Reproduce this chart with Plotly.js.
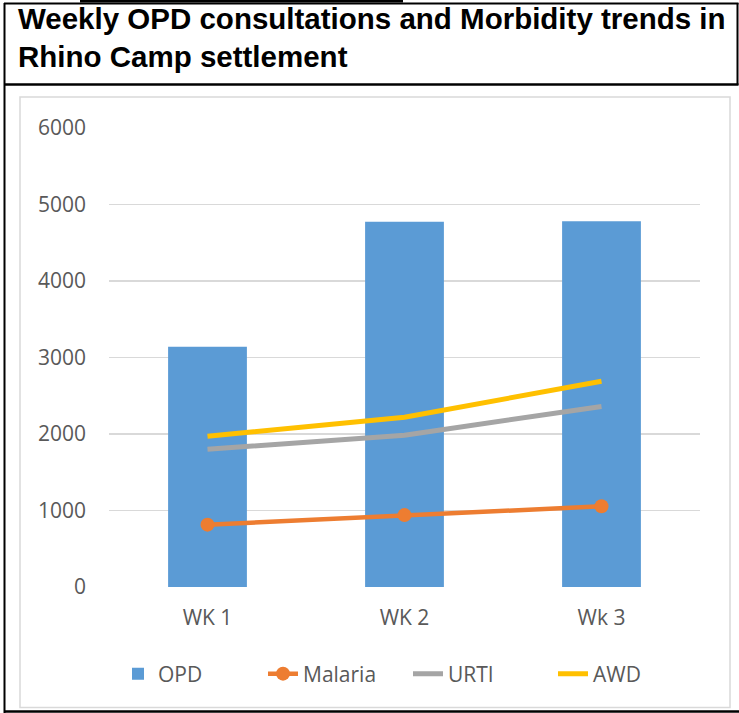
<!DOCTYPE html>
<html>
<head>
<meta charset="utf-8">
<script src="https://cdn.plot.ly/plotly-3.0.1.min.js"></script>
<style>html,body{margin:0;padding:0;background:#fff;}#chart{width:739px;height:713px;}</style>
</head>
<body>
<div id="chart"></div>
<script>
var weeks = ['WK 1', 'WK 2', 'Wk 3'];
var opd = [3140, 4775, 4780];
var malaria = [815, 940, 1055];
var urti = [1800, 1985, 2360];
var awd = [1970, 2220, 2690];
var yTicks = [0, 1000, 2000, 3000, 4000, 5000, 6000];

var W = 739, H = 713;
var M = {l: 109, r: 39, t: 128, b: 126};
var PW = W - M.l - M.r, PH = H - M.t - M.b;
function px(x) { return (x - M.l) / PW; }
function py(y) { return (H - M.b - y) / PH; }

var font = "'Open Sans', 'Noto Sans', sans-serif";
var grey = '#595959';

var traces = [
  {type: 'bar', name: 'OPD', x: weeks, y: opd, marker: {color: '#5B9BD5'}},
  {type: 'scatter', mode: 'lines+markers', name: 'Malaria', x: weeks, y: malaria,
   line: {color: '#ED7D31', width: 4.5}, marker: {color: '#ED7D31', size: 14}},
  {type: 'scatter', mode: 'lines', name: 'URTI', x: weeks, y: urti,
   line: {color: '#A5A5A5', width: 5}},
  {type: 'scatter', mode: 'lines', name: 'AWD', x: weeks, y: awd,
   line: {color: '#FFC000', width: 5}}
];

function line(x0, y0, x1, y1, color, w) {
  return {type: 'line', xref: 'paper', yref: 'paper', x0: px(x0), y0: py(y0), x1: px(x1), y1: py(y1),
          line: {color: color, width: w}, layer: 'above'};
}

var shapes = [
  {type: 'rect', xref: 'paper', yref: 'paper', x0: px(80), x1: px(403), y0: py(0), y1: py(2.5),
   fillcolor: '#000', line: {width: 0}},
  line(4, 3.5, 738.5, 3.5, '#000', 2),
  line(4.5, 3, 4.5, 713, '#000', 2),
  line(737.5, 3, 737.5, 85, '#000', 2),
  line(4, 84.5, 738.5, 84.5, '#000', 2.5),
  line(4, 711.5, 739, 711.5, '#000', 2.5),
  {type: 'rect', xref: 'paper', yref: 'paper', x0: px(20), x1: px(730), y0: py(97), y1: py(707.5),
   line: {color: '#D9D9D9', width: 1.5}, layer: 'below'}
];

var layout = {
  width: W, height: H,
  margin: M,
  paper_bgcolor: '#fff', plot_bgcolor: '#fff',
  title: {
    text: '<b>Weekly OPD consultations and Morbidity trends in<br>Rhino Camp settlement</b>',
    font: {family: "'Liberation Sans', Arial, sans-serif", size: 29.5, color: '#000'},
    xref: 'container', yref: 'container', x: 18 / W, xanchor: 'left', y: 1 - 29 / H, yanchor: 'top'
  },
  bargap: 0.6,
  xaxis: {
    type: 'category', tickfont: {family: font, size: 21, color: grey},
    showgrid: false, showline: false, ticks: '', ticklabelstandoff: 16, fixedrange: true
  },
  yaxis: {
    range: [0, 6000], tickvals: yTicks, ticktext: yTicks.map(String),
    tickfont: {family: font, size: 21, color: grey},
    showgrid: true, gridcolor: '#D9D9D9', gridwidth: 1.5, zeroline: false,
    showline: false, ticks: '', ticklabelstandoff: 22, fixedrange: true
  },
  legend: {
    orientation: 'h', x: px(118), xanchor: 'left', y: py(674), yanchor: 'middle',
    entrywidth: 100, entrywidthmode: 'pixels',
    font: {family: font, size: 21, color: grey}, bgcolor: 'rgba(0,0,0,0)', traceorder: 'normal'
  },
  shapes: shapes,
  showlegend: true
};

Plotly.newPlot('chart', traces, layout, {displayModeBar: false, staticPlot: true});
</script>
</body>
</html>
